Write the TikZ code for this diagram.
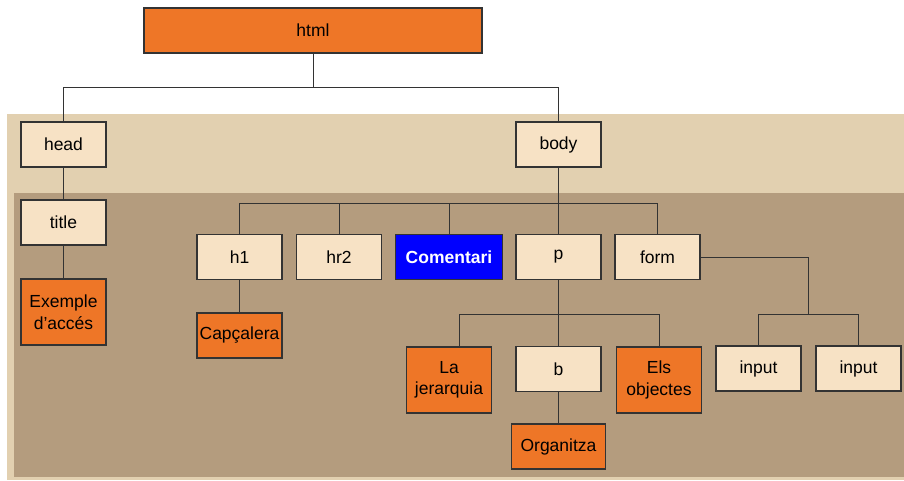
\documentclass[tikz,border=0pt]{standalone}
\usepackage{fontspec}
\setmainfont{Liberation Sans}
\definecolor{orng}{HTML}{EE7627}
\definecolor{nfill}{HTML}{F7E2C5}
\definecolor{bandlight}{HTML}{E2D0B0}
\definecolor{banddark}{HTML}{B49C7E}
\definecolor{edgec}{HTML}{333333}
\tikzset{
  box/.style={draw=edgec, line width=1.1pt, fill=nfill, minimum width=85pt, minimum height=45pt,
    inner sep=0pt, align=center, font=\fontsize{17.5}{21.5}\selectfont},
  obox/.style={box, fill=orng},
  conn/.style={draw=edgec, line width=0.9pt}
}
\begin{document}
\begin{tikzpicture}[x=1pt,y=-1pt]
\useasboundingbox (0,0) rectangle (904,480);
\fill[bandlight] (7,114) rectangle (904,480);
\fill[banddark] (14,193) rectangle (904,477);

\node[obox, minimum width=338pt] (html) at (313,30.5) {html};
\node[box] (head) at (63.5,144.5) {head};
\node[box] (body) at (558.5,144.5) {body};
\node[box] (title) at (63.5,222.5) {title};
\node[obox, minimum height=66pt] (ex) at (63.5,312) {Exemple\\d’accés};
\node[box] (h1) at (239.5,257) {h1};
\node[box] (hr2) at (339,257) {hr2};
\node[box, fill=blue, text=white, minimum width=107pt, font=\fontsize{17.5}{21.5}\selectfont\bfseries] (com) at (449,257) {Comentari};
\node[box] (p) at (558.5,257) {p};
\node[box] (form) at (657.5,257) {form};
\node[obox] (cap) at (239.5,335.5) {Capçalera};
\node[obox, minimum height=66pt] (jer) at (449,380) {La\\jerarquia};
\node[box] (b) at (558.5,369) {b};
\node[obox, minimum height=66pt] (obj) at (659,380) {Els\\objectes};
\node[obox, minimum width=94pt] (org) at (558.5,446.5) {Organitza};
\node[box] (in1) at (758.5,368.5) {input};
\node[box] (in2) at (858.5,368.5) {input};

\coordinate (hb) at (313,87);
\draw[conn] (html.south) -- (hb) -| (head.north);
\draw[conn] (hb) -| (body.north);
\draw[conn] (head.south) -- (title.north);
\draw[conn] (title.south) -- (ex.north);

\coordinate (bb) at (558.5,203);
\draw[conn] (body.south) -- (bb);
\foreach \c in {h1,hr2,com,p,form} \draw[conn] (bb) -| (\c.north);
\draw[conn] (h1.south) -- (cap.north);

\coordinate (pb) at (558.5,314);
\draw[conn] (p.south) -- (pb);
\draw[conn] (pb) -| ([xshift=10pt]jer.north);
\foreach \c in {b,obj} \draw[conn] (pb) -| (\c.north);
\draw[conn] (b.south) -- (org.north);

\coordinate (fb) at (808,314);
\draw[conn] (form.east) -| (fb);
\draw[conn] (in1.north) |- (fb);
\draw[conn] (in2.north) |- (fb);
\end{tikzpicture}
\end{document}
